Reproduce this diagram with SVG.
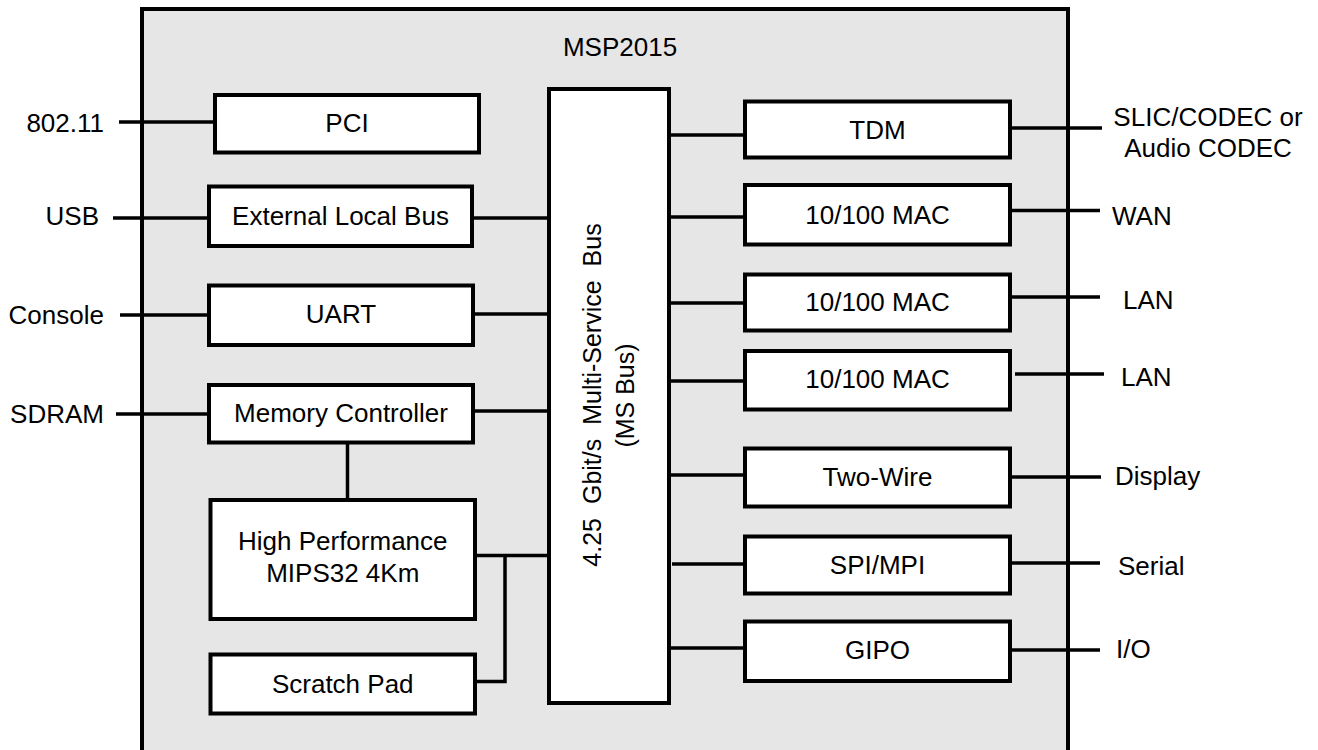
<svg xmlns="http://www.w3.org/2000/svg" width="1318" height="750" viewBox="0 0 1318 750">
<style>
.box{fill:#fff;stroke:#000;stroke-width:4}
.chip{fill:#e6e6e6;stroke:#000;stroke-width:4}
.ln{stroke:#000;stroke-width:3.5;fill:none}
text{font-family:"Liberation Sans",Arial,Helvetica,sans-serif;font-size:26px;fill:#000}
.c{text-anchor:middle}
.r{text-anchor:end}
</style>
<rect width="1318" height="750" fill="#fff"/>
<g id="chip">
<rect class="chip" x="142" y="9" width="926" height="760"/>
<text class="c" x="620" y="56">MSP2015</text>
</g>
<g id="connectors">
<line class="ln" x1="119" y1="122" x2="215" y2="122"/>
<line class="ln" x1="113" y1="218" x2="209" y2="218"/>
<line class="ln" x1="120" y1="315" x2="209" y2="315"/>
<line class="ln" x1="116" y1="414" x2="209" y2="414"/>
<line class="ln" x1="472" y1="218" x2="549" y2="218"/>
<line class="ln" x1="473" y1="314" x2="549" y2="314"/>
<line class="ln" x1="473" y1="411" x2="549" y2="411"/>
<line class="ln" x1="347.5" y1="442" x2="347.5" y2="500"/>
<line class="ln" x1="475" y1="555.5" x2="549" y2="555.5"/>
<polyline class="ln" points="505,555.5 505,681.5 475,681.5"/>
<line class="ln" x1="669" y1="135" x2="745" y2="135"/>
<line class="ln" x1="669" y1="217" x2="745" y2="217"/>
<line class="ln" x1="669" y1="303" x2="745" y2="303"/>
<line class="ln" x1="669" y1="381" x2="745" y2="381"/>
<line class="ln" x1="669" y1="475" x2="745" y2="475"/>
<line class="ln" x1="672" y1="564" x2="745" y2="564"/>
<line class="ln" x1="669" y1="648" x2="745" y2="648"/>
<line class="ln" x1="1010" y1="128" x2="1102" y2="128"/>
<line class="ln" x1="1010" y1="210.5" x2="1100" y2="210.5"/>
<line class="ln" x1="1010" y1="297" x2="1100" y2="297"/>
<line class="ln" x1="1015" y1="374" x2="1104" y2="374"/>
<line class="ln" x1="1010" y1="477" x2="1101" y2="477"/>
<line class="ln" x1="1010" y1="563" x2="1100" y2="563"/>
<line class="ln" x1="1010" y1="650" x2="1100" y2="650"/>
</g>
<g id="bus">
<rect class="box" x="549" y="89" width="120" height="614"/>
<text class="c" transform="translate(601,395) rotate(-90)" font-size="25" word-spacing="7" style="font-size:25px">4.25 Gbit/s Multi-Service Bus</text>
<text class="c" transform="translate(634,395.5) rotate(-90)" style="font-size:25px">(MS Bus)</text>
</g>
<g id="pci"><rect class="box" x="215" y="95" width="264" height="57.5"/><text class="c" x="347" y="132">PCI</text></g>
<g id="elb"><rect class="box" x="209" y="186.5" width="263" height="59.5"/><text class="c" x="340.5" y="225">External Local Bus</text></g>
<g id="uart"><rect class="box" x="209" y="285.5" width="264" height="59.5"/><text class="c" x="341" y="323">UART</text></g>
<g id="memctrl"><rect class="box" x="209" y="385" width="264" height="57.5"/><text class="c" x="341" y="422">Memory Controller</text></g>
<g id="cpu"><rect class="box" x="210.5" y="500" width="264.5" height="119"/><text class="c" x="342.75" y="550">High Performance</text><text class="c" x="342.75" y="582">MIPS32 4Km</text></g>
<g id="scratch"><rect class="box" x="210.5" y="654.5" width="264.5" height="59"/><text class="c" x="342.75" y="692.5">Scratch Pad</text></g>
<g id="tdm"><rect class="box" x="745" y="101.5" width="265" height="56"/><text class="c" x="877.5" y="139">TDM</text></g>
<g id="mac1"><rect class="box" x="745" y="185" width="265" height="59.5"/><text class="c" x="877.5" y="223.5">10/100 MAC</text></g>
<g id="mac2"><rect class="box" x="745" y="274.5" width="265" height="56"/><text class="c" x="877.5" y="311">10/100 MAC</text></g>
<g id="mac3"><rect class="box" x="745" y="351" width="265" height="58.5"/><text class="c" x="877.5" y="388">10/100 MAC</text></g>
<g id="twowire"><rect class="box" x="745" y="448.5" width="265" height="58"/><text class="c" x="877.5" y="486">Two-Wire</text></g>
<g id="spi"><rect class="box" x="745" y="536.5" width="265" height="57"/><text class="c" x="877.5" y="573.5">SPI/MPI</text></g>
<g id="gipo"><rect class="box" x="745" y="621.5" width="265" height="59.5"/><text class="c" x="877.5" y="659">GIPO</text></g>
<g id="labels">
<text class="r" x="104" y="132">802.11</text>
<text class="r" x="99" y="225">USB</text>
<text class="r" x="104" y="324">Console</text>
<text class="r" x="104" y="423">SDRAM</text>
<text class="c" x="1208" y="126">SLIC/CODEC or</text>
<text class="c" x="1208" y="157">Audio CODEC</text>
<text x="1112" y="225">WAN</text>
<text x="1123" y="309">LAN</text>
<text x="1121" y="386">LAN</text>
<text x="1115" y="485">Display</text>
<text x="1118" y="575">Serial</text>
<text x="1116" y="658">I/O</text>
</g>
</svg>
